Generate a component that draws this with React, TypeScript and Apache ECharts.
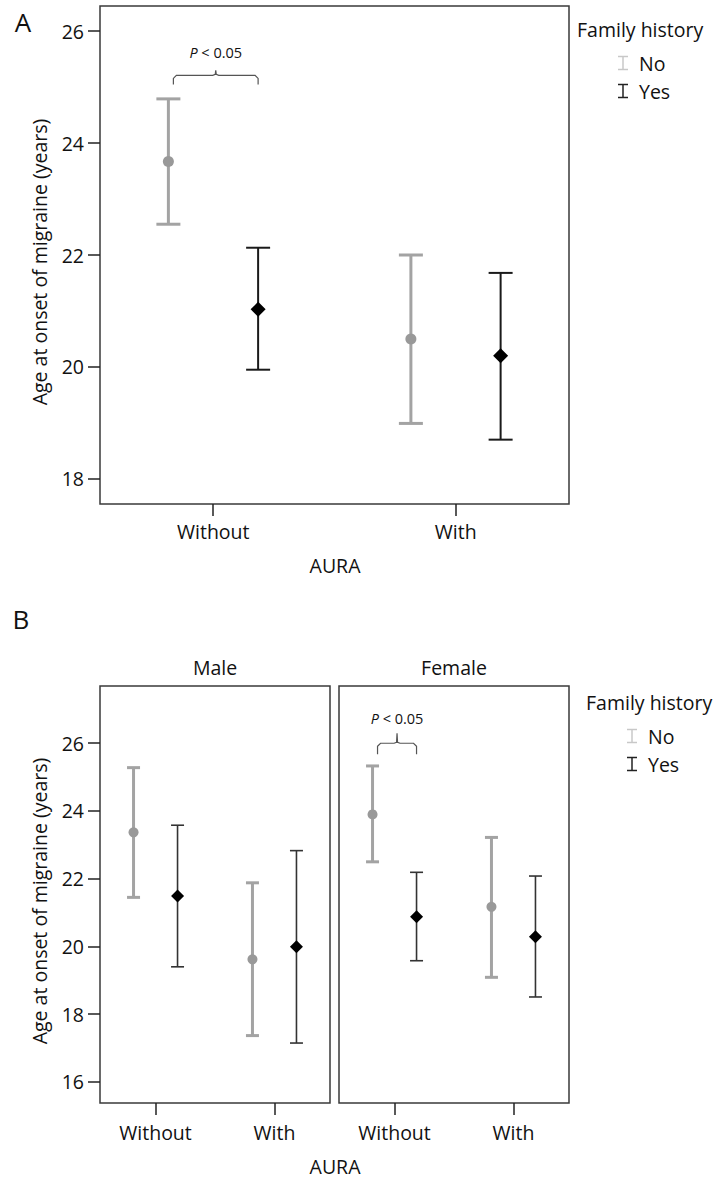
import React, { useEffect, useRef } from "react";
import * as echarts from "echarts";

const auraCategories = ["Without", "With"];
const yTicksA = [18, 20, 22, 24, 26];
const yTicksB = [16, 18, 20, 22, 24, 26];

// Panel A (all patients)
const aNoMean = [23.67, 20.5];
const aNoLow = [22.55, 18.99];
const aNoHigh = [24.79, 22.0];
const aYesMean = [21.03, 20.2];
const aYesLow = [19.95, 18.7];
const aYesHigh = [22.13, 21.68];

// Panel B, Male
const maleNoMean = [23.37, 19.62];
const maleNoLow = [21.45, 17.37];
const maleNoHigh = [25.28, 21.88];
const maleYesMean = [21.49, 19.99];
const maleYesLow = [19.4, 17.15];
const maleYesHigh = [23.58, 22.83];

// Panel B, Female
const femaleNoMean = [23.9, 21.17];
const femaleNoLow = [22.5, 19.09];
const femaleNoHigh = [25.33, 23.22];
const femaleYesMean = [20.88, 20.29];
const femaleYesLow = [19.58, 18.51];
const femaleYesHigh = [22.19, 22.08];

const FONT = "'Open Sans', sans-serif";
const FS = 19.5;
const GRAY = "#a3a3a3";
const LEGEND_GRAY = "#c8c8c8";
const OFF = 0.185;

export default function App() {
  const ref = useRef<HTMLDivElement>(null);

  useEffect(() => {
    document.body.style.margin = "0";
    const chart = echarts.init(ref.current!, null, { renderer: "svg" });

    const grids = [
      { left: 100, top: 6, width: 469, height: 498 },
      { left: 100, top: 686, width: 230, height: 417 },
      { left: 339, top: 686, width: 230, height: 417 },
    ].map((g) => ({
      ...g,
      show: true,
      borderColor: "#3a3a3a",
      borderWidth: 1.5,
      backgroundColor: "transparent",
    }));

    const xAxis = [0, 1, 2].map((g) => ({
      type: "value",
      gridIndex: g,
      min: -0.467,
      max: 1.467,
      axisLine: { show: false, onZero: false },
      splitLine: { show: false },
      axisTick: {
        show: true,
        customValues: [0, 1],
        length: 12,
        lineStyle: { color: "#222", width: 1.5 },
      },
      axisLabel: {
        show: true,
        customValues: [0, 1],
        formatter: (v: number) => auraCategories[Math.round(v)] ?? "",
        fontFamily: FONT,
        fontSize: FS,
        color: "#111",
        margin: g === 0 ? 17 : 19,
      },
    }));

    const mkY = (g: number, min: number, max: number, ticks: number[], show: boolean) => ({
      type: "value",
      gridIndex: g,
      min,
      max,
      axisLine: { show: false, onZero: false },
      splitLine: { show: false },
      axisTick: {
        show,
        customValues: ticks,
        length: 12,
        lineStyle: { color: "#222", width: 1.5 },
      },
      axisLabel: {
        show,
        customValues: ticks,
        fontFamily: FONT,
        fontSize: FS,
        color: "#111",
        margin: 16,
      },
    });

    const yAxis = [
      mkY(0, 17.55, 26.45, yTicksA, true),
      mkY(1, 15.38, 27.69, yTicksB, true),
      mkY(2, 15.38, 27.69, yTicksB, false),
    ];

    const errSeries = (
      g: number,
      off: number,
      low: number[],
      high: number[],
      color: string,
      lw: number,
      capHalf: number
    ) => ({
      type: "custom",
      xAxisIndex: g,
      yAxisIndex: g,
      data: auraCategories.map((_, i) => [i + off, low[i], high[i]]),
      renderItem: (params: any, api: any) => {
        const x = api.value(0);
        const p1 = api.coord([x, api.value(2)]);
        const p2 = api.coord([x, api.value(1)]);
        const style = { stroke: color, lineWidth: lw };
        return {
          type: "group",
          children: [
            { type: "line", shape: { x1: p1[0], y1: p1[1], x2: p2[0], y2: p2[1] }, style },
            { type: "line", shape: { x1: p1[0] - capHalf, y1: p1[1], x2: p1[0] + capHalf, y2: p1[1] }, style },
            { type: "line", shape: { x1: p2[0] - capHalf, y1: p2[1], x2: p2[0] + capHalf, y2: p2[1] }, style },
          ],
        };
      },
      z: 2,
    });

    const ptSeries = (
      g: number,
      off: number,
      mean: number[],
      symbol: string,
      size: number,
      color: string
    ) => ({
      type: "scatter",
      xAxisIndex: g,
      yAxisIndex: g,
      symbol,
      symbolSize: size,
      itemStyle: { color, opacity: 1 },
      data: auraCategories.map((_, i) => [i + off, mean[i]]),
      z: 3,
    });

    const panels = [
      { g: 0, nm: aNoMean, nl: aNoLow, nh: aNoHigh, ym: aYesMean, yl: aYesLow, yh: aYesHigh, cap: 12, blw: 2, blc: "#1a1a1a", cs: 11, ds: 15 },
      { g: 1, nm: maleNoMean, nl: maleNoLow, nh: maleNoHigh, ym: maleYesMean, yl: maleYesLow, yh: maleYesHigh, cap: 6.5, blw: 1.6, blc: "#333", cs: 10, ds: 13 },
      { g: 2, nm: femaleNoMean, nl: femaleNoLow, nh: femaleNoHigh, ym: femaleYesMean, yl: femaleYesLow, yh: femaleYesHigh, cap: 6.5, blw: 1.6, blc: "#333", cs: 10, ds: 13 },
    ];

    const series: any[] = [];
    panels.forEach((p) => {
      series.push(errSeries(p.g, -OFF, p.nl, p.nh, GRAY, 3, p.cap));
      series.push(errSeries(p.g, OFF, p.yl, p.yh, p.blc, p.blw, p.cap));
      series.push(ptSeries(p.g, -OFF, p.nm, "circle", p.cs, "#999"));
      series.push(ptSeries(p.g, OFF, p.ym, "diamond", p.ds, "#000"));
    });

    chart.setOption({
      animation: false,
      backgroundColor: "#fff",
      textStyle: { fontFamily: FONT },
      grid: grids,
      xAxis,
      yAxis,
      series,
    });

    // annotations computed from axis scales
    const brace = (g: number, yVal: number, h: number, mid: number, textGap: number) => {
      const a = chart.convertToPixel({ gridIndex: g } as any, [-OFF, yVal]) as number[];
      const b = chart.convertToPixel({ gridIndex: g } as any, [OFF, yVal]) as number[];
      const x1 = a[0] + 5;
      const x2 = b[0];
      const y = a[1];
      const mx = (x1 + x2) / 2;
      return [
        {
          type: "polyline",
          shape: {
            points: [
              [x1, y + h],
              [x1, y + 3],
              [x1 + 3, y],
              [mx - 3, y],
              [mx - 0.5, y - 1],
              [mx, y - mid],
              [mx + 0.5, y - 1],
              [mx + 3, y],
              [x2 - 3, y],
              [x2, y + 3],
              [x2, y + h],
            ],
          },
          style: { stroke: "#555", lineWidth: 1.2, fill: null },
          z: 10,
        },
        {
          type: "text",
          x: mx,
          y: y - textGap,
          style: {
            text: "{i|P} < 0.05",
            rich: { i: { fontStyle: "italic", fontSize: 14.5, fontFamily: FONT, fill: "#111" } },
            fontFamily: FONT,
            fontSize: 14.5,
            fill: "#111",
            align: "center",
            verticalAlign: "middle",
          },
          z: 10,
        },
      ];
    };

    const legend = (x: number, y: number) => {
      const ix = x + 46;
      const tx = x + 62;
      const beam = (cy: number, color: string) => [
        { type: "line", shape: { x1: ix, y1: cy - 6.5, x2: ix, y2: cy + 6.5 }, style: { stroke: color, lineWidth: 1.5 } },
        { type: "line", shape: { x1: ix - 5, y1: cy - 6.5, x2: ix + 5, y2: cy - 6.5 }, style: { stroke: color, lineWidth: 1.5 } },
        { type: "line", shape: { x1: ix - 5, y1: cy + 6.5, x2: ix + 5, y2: cy + 6.5 }, style: { stroke: color, lineWidth: 1.5 } },
      ];
      return [
        { type: "text", x, y, style: { text: "Family history", fontFamily: FONT, fontSize: FS, fill: "#111", verticalAlign: "middle" } },
        ...beam(y + 34, LEGEND_GRAY),
        { type: "text", x: tx, y: y + 34, style: { text: "No", fontFamily: FONT, fontSize: FS, fill: "#111", verticalAlign: "middle" } },
        ...beam(y + 62, "#222"),
        { type: "text", x: tx, y: y + 62, style: { text: "Yes", fontFamily: FONT, fontSize: FS, fill: "#111", verticalAlign: "middle" } },
      ];
    };

    const txt = (text: string, x: number, y: number, size: number, extra: any = {}) => ({
      type: "text",
      x,
      y,
      ...extra,
      style: { text, fontFamily: FONT, fontSize: size, fill: "#111", align: "center", verticalAlign: "middle" },
    });

    chart.setOption({
      graphic: [
        txt("A", 23, 22, 26),
        txt("B", 21, 619, 26),
        txt("Age at onset of migraine (years)", 39, 262, FS, { rotation: Math.PI / 2 }),
        txt("Age at onset of migraine (years)", 39, 901, FS, { rotation: Math.PI / 2 }),
        txt("AURA", 335, 565, FS),
        txt("AURA", 335, 1166, FS),
        txt("Male", 215, 667, FS),
        txt("Female", 454, 667, FS),
        ...brace(0, 25.21, 9, 5, 23),
        ...brace(2, 26.0, 11, 10, 25),
        ...legend(577, 29),
        ...legend(586, 702),
      ],
    });

    return () => chart.dispose();
  }, []);

  return <div ref={ref} style={{ width: 715, height: 1178 }} />;
}
